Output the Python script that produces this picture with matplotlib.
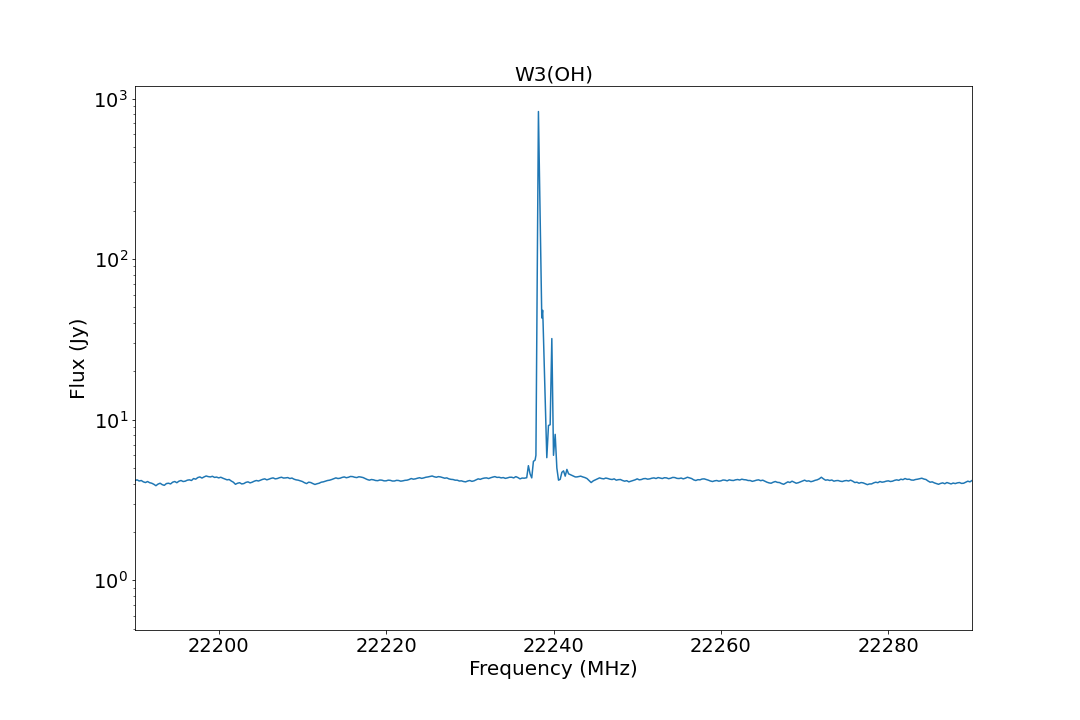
import numpy as np
import matplotlib
matplotlib.use("Agg")
import matplotlib.pyplot as plt

# baseline left of the line, 0.25 MHz steps from 22190.0
left_start = 22190.0
left_flux = [4.18, 4.22, 4.15, 4.18, 4.10, 4.06, 4.12, 4.05,
             4.02, 3.96, 3.88, 3.97, 4.02, 3.94, 3.90, 4.00,
             4.02, 3.98, 4.08, 4.12, 4.05, 4.14, 4.18, 4.12,
             4.14, 4.20, 4.22, 4.18, 4.30, 4.26, 4.36, 4.40,
             4.33, 4.40, 4.46, 4.42, 4.40, 4.44, 4.37, 4.39,
             4.34, 4.38, 4.32, 4.27, 4.22, 4.24, 4.15, 4.08,
             3.96, 4.02, 4.05, 3.98, 4.00, 4.07, 4.10, 4.04,
             4.08, 4.14, 4.18, 4.15, 4.20, 4.25, 4.28, 4.22,
             4.26, 4.31, 4.34, 4.28, 4.30, 4.35, 4.38, 4.33,
             4.34, 4.36, 4.30, 4.33, 4.26, 4.22, 4.20, 4.16,
             4.12, 4.05, 4.00, 4.08, 4.06, 4.00, 3.95, 3.99,
             4.02, 4.08, 4.10, 4.14, 4.18, 4.20, 4.24, 4.29,
             4.34, 4.30, 4.32, 4.37, 4.40, 4.35, 4.38, 4.43,
             4.42, 4.38, 4.36, 4.41, 4.39, 4.36, 4.30, 4.24,
             4.20, 4.24, 4.22, 4.18, 4.17, 4.21, 4.20, 4.16,
             4.16, 4.20, 4.19, 4.15, 4.15, 4.19, 4.18, 4.14,
             4.16, 4.19, 4.20, 4.24, 4.30, 4.26, 4.28, 4.32,
             4.35, 4.31, 4.34, 4.38, 4.40, 4.43, 4.46, 4.41,
             4.38, 4.42, 4.40, 4.36, 4.32, 4.34, 4.28, 4.25,
             4.24, 4.20, 4.20, 4.15, 4.16, 4.12, 4.10, 4.15,
             4.18, 4.13, 4.16, 4.22, 4.28, 4.25, 4.30, 4.33,
             4.34, 4.30, 4.35, 4.39, 4.42, 4.37, 4.38, 4.34,
             4.36, 4.31, 4.34, 4.38, 4.38, 4.34, 4.42, 4.36,
             4.28, 4.33, 4.32]

# maser line
line_freq = [22236.8, 22237.0, 22237.2, 22237.4, 22237.6, 22237.8, 22237.9,
             22238.2, 22238.6, 22238.7, 22238.75, 22239.2, 22239.4, 22239.6,
             22239.8, 22240.0, 22240.2, 22240.4, 22240.6, 22240.8, 22241.0,
             22241.2, 22241.4, 22241.6, 22241.8, 22242.0, 22242.2, 22242.4,
             22242.6, 22242.8]
line_flux = [4.35, 5.17, 4.6, 4.34, 5.5, 5.6, 6.0,
             830, 43, 48, 41, 5.8, 9.2, 9.3,
             32, 6.0, 8.1, 5.0, 4.2, 4.25, 4.7,
             4.8, 4.45, 4.9, 4.6, 4.55, 4.5, 4.45,
             4.4, 4.4]

# baseline right of the line, 0.25 MHz steps from 22243.0
right_start = 22243.0
right_flux = [4.42, 4.45, 4.40, 4.36, 4.30, 4.18, 4.06, 4.16,
              4.22, 4.28, 4.34, 4.30, 4.28, 4.33, 4.30, 4.26,
              4.24, 4.28, 4.20, 4.23, 4.24, 4.18, 4.14, 4.17,
              4.10, 4.14, 4.18, 4.22, 4.28, 4.22, 4.24, 4.29,
              4.30, 4.26, 4.28, 4.32, 4.34, 4.30, 4.36, 4.33,
              4.30, 4.35, 4.34, 4.29, 4.32, 4.37, 4.36, 4.31,
              4.30, 4.33, 4.28, 4.32, 4.38, 4.34, 4.30, 4.22,
              4.18, 4.23, 4.22, 4.27, 4.28, 4.24, 4.20, 4.15,
              4.12, 4.16, 4.18, 4.14, 4.16, 4.21, 4.20, 4.16,
              4.22, 4.19, 4.18, 4.22, 4.24, 4.21, 4.26, 4.23,
              4.22, 4.18, 4.18, 4.13, 4.16, 4.20, 4.22, 4.17,
              4.20, 4.14, 4.08, 4.04, 4.02, 4.08, 4.12, 4.07,
              4.06, 4.00, 3.96, 4.03, 4.10, 4.06, 4.14, 4.08,
              4.02, 4.05, 4.10, 4.15, 4.20, 4.14, 4.16, 4.11,
              4.14, 4.19, 4.22, 4.28, 4.38, 4.28, 4.20, 4.22,
              4.18, 4.21, 4.14, 4.17, 4.18, 4.14, 4.12, 4.16,
              4.18, 4.15, 4.20, 4.14, 4.06, 4.08, 4.02, 4.06,
              4.04, 3.99, 3.94, 3.98, 3.98, 4.04, 4.08, 4.05,
              4.12, 4.08, 4.10, 4.14, 4.16, 4.12, 4.14, 4.19,
              4.22, 4.19, 4.26, 4.23, 4.30, 4.25, 4.26, 4.21,
              4.20, 4.24, 4.26, 4.29, 4.32, 4.27, 4.24, 4.15,
              4.08, 4.10, 4.04, 4.00, 3.96, 4.01, 4.04, 3.99,
              4.06, 4.02, 3.98, 4.03, 4.00, 4.04, 4.06, 4.01,
              4.02, 4.08, 4.14, 4.10, 4.18]

left_freq = left_start + 0.25 * np.arange(len(left_flux))
right_freq = right_start + 0.25 * np.arange(len(right_flux))

freq = np.concatenate([left_freq, line_freq, right_freq])
flux = np.concatenate([left_flux, line_flux, right_flux])
order = np.argsort(freq)
freq, flux = freq[order], flux[order]

fig = plt.figure(figsize=(15, 10), dpi=72)
plt.subplots_adjust(left=0.125, right=0.9, top=0.88, bottom=0.125)
plt.plot(freq, flux, color='tab:blue', lw=1.5)
plt.yscale('log')
plt.xlim(22190, 22290)
plt.ylim(0.49, 1190)
plt.xlabel('Frequency (MHz)', fontsize=20)
plt.ylabel('Flux (Jy)', fontsize=20)
plt.title('W3(OH)', fontsize=20)
plt.tick_params(labelsize=19.5)
plt.savefig('out.png', dpi=72)
